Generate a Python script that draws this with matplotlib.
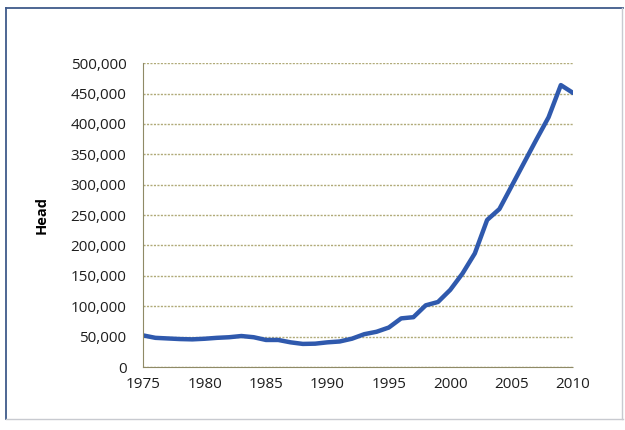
import numpy as np
import matplotlib.pyplot as plt
from matplotlib.lines import Line2D
from matplotlib.ticker import FuncFormatter

years = list(range(1975, 2011))
head = [52000, 48000, 47000, 46000, 45500, 46500, 48000, 49000, 51000, 49000,
        44500, 44500, 40600, 38000, 38400, 40600, 42000, 46600, 54000, 58000,
        65000, 80000, 82000, 101500, 107000, 127000, 154000, 187000, 242000, 260000,
        298000, 336000, 374000, 411000, 464000, 451000]
yticks = list(range(0, 500001, 50000))
xticks = list(range(1975, 2011, 5))

plt.rcParams['font.family'] = ['Open Sans', 'DejaVu Sans']

fig = plt.figure(figsize=(6.25, 4.3), dpi=100)
# frame of the scanned chart: dark on top/left, faint on right/bottom
fig.add_artist(Line2D([0.010, 0.010], [0.025, 0.982], transform=fig.transFigure,
                      color='#3f5a8a', linewidth=1.3))
fig.add_artist(Line2D([0.010, 0.996], [0.982, 0.982], transform=fig.transFigure,
                      color='#3f5a8a', linewidth=1.3))
fig.add_artist(Line2D([0.010, 0.996], [0.025, 0.025], transform=fig.transFigure,
                      color='#c8cad0', linewidth=1))
fig.add_artist(Line2D([0.995, 0.995], [0.025, 0.982], transform=fig.transFigure,
                      color='#c8cad0', linewidth=1))

ax = fig.add_axes([0.229, 0.1465, 0.688, 0.7065])
ax.plot(years, head, color='#2f59ad', linewidth=3.2, solid_capstyle='round')

ax.set_xlim(1975, 2010)
ax.set_ylim(0, 500000)
ax.set_xticks(xticks)
ax.set_yticks(yticks)
ax.yaxis.set_major_formatter(FuncFormatter(lambda v, p: f'{int(v):,}'))
ax.tick_params(length=0, labelsize=11, colors='#1e1e1e')
ax.tick_params(axis='y', pad=12)
ax.tick_params(axis='x', pad=7)

ax.grid(axis='y', color='#b0aa78', linestyle=(0, (1.5, 1)), linewidth=1)
ax.set_axisbelow(True)
for s in ['top', 'right']:
    ax.spines[s].set_visible(False)
for s in ['left', 'bottom']:
    ax.spines[s].set_color('#8f8a66')
    ax.spines[s].set_linestyle((0, (1.5, 1)))

ax.set_ylabel('Head', fontweight='bold', fontsize=10.5, labelpad=16)

fig.savefig('out.png', dpi=100)
